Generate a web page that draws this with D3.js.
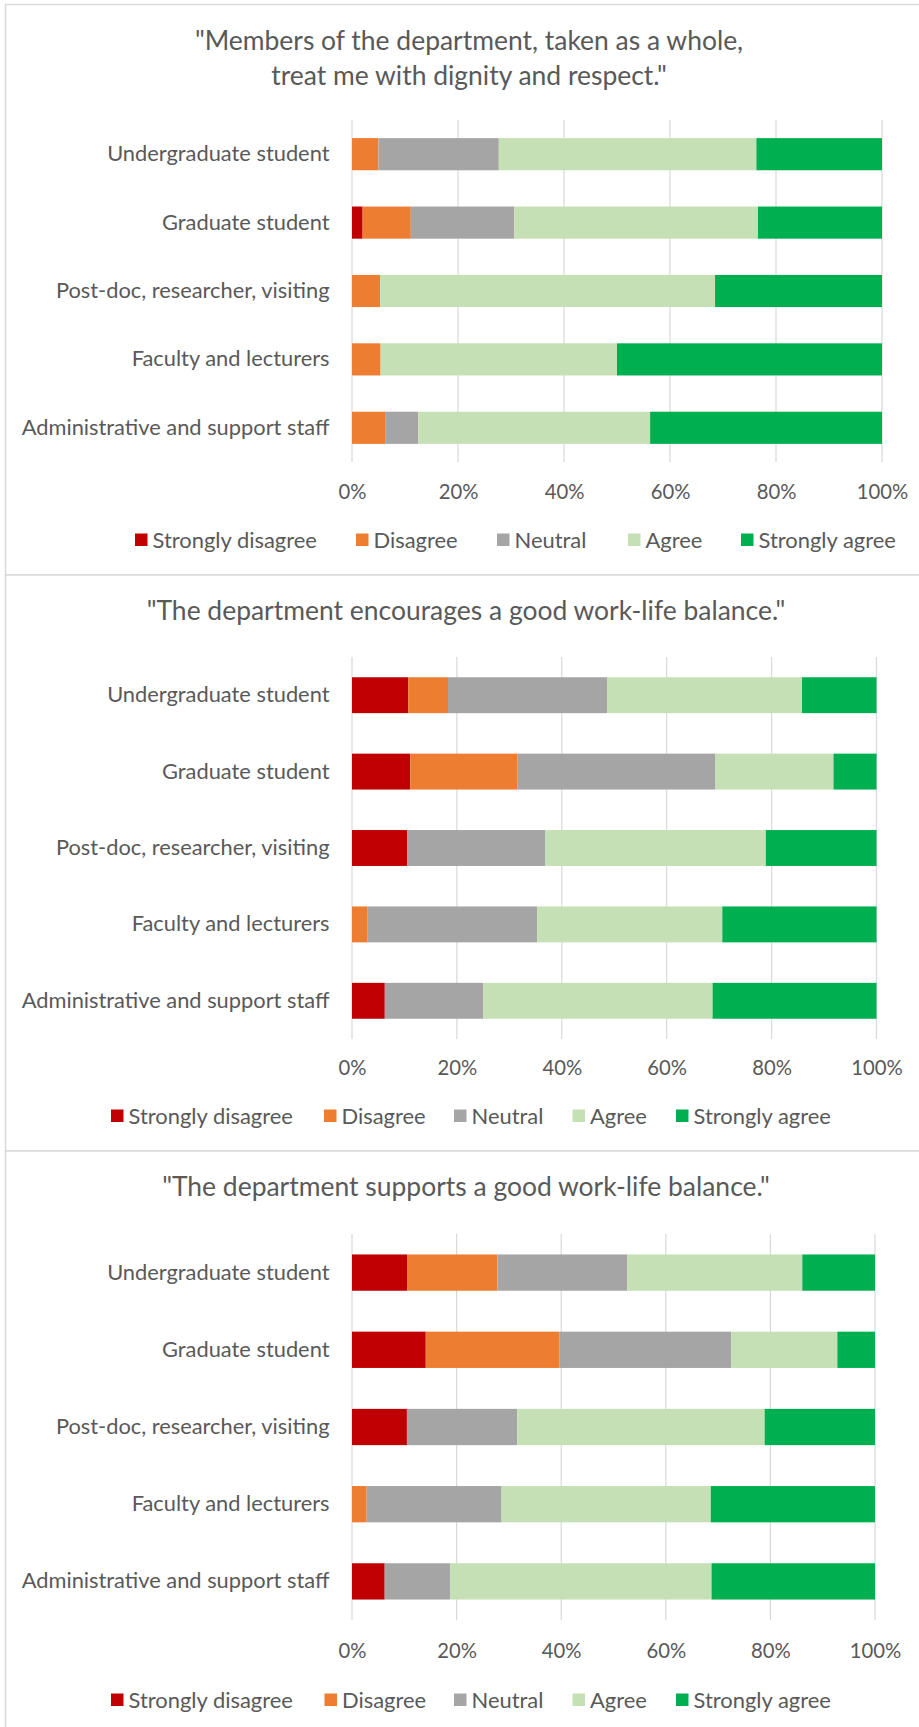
<!DOCTYPE html>
<html>
<head>
<meta charset="utf-8">
<script src="https://cdn.jsdelivr.net/npm/d3@7"></script>
<style>
  html, body { margin: 0; padding: 0; background: #ffffff; }
  svg { display: block; font-family: Lato, "Open Sans", sans-serif; }
</style>
</head>
<body>
<svg id="chart" width="919" height="1727"></svg>
<script>
// Respondent groups, in display order (top to bottom)
const categories = [
  "Undergraduate student",
  "Graduate student",
  "Post-doc, researcher, visiting",
  "Faculty and lecturers",
  "Administrative and support staff"
];

// Likert response levels and their colours
const responseLevels = ["Strongly disagree", "Disagree", "Neutral", "Agree", "Strongly agree"];
const levelColors = ["#C00000", "#ED7D31", "#A5A5A5", "#C5E0B4", "#00B050"];

// Axis ticks (percent of respondents)
const tickValues = [0, 20, 40, 60, 80, 100];
const tickLabels = ["0%", "20%", "40%", "60%", "80%", "100%"];

// Statement texts
const dignityTitle = ["\"Members of the department, taken as a whole,", "treat me with dignity and respect.\""];
const encouragesTitle = ["\"The department encourages a good work-life balance.\""];
const supportsTitle = ["\"The department supports a good work-life balance.\""];

// Share of responses per group (%), order: SD, D, N, A, SA
const dignityValues = [
  [0, 5.0, 22.7, 48.6, 23.7],
  [2.0, 9.1, 19.5, 46.0, 23.4],
  [0, 5.3, 0, 63.2, 31.5],
  [0, 5.4, 0, 44.6, 50.0],
  [0, 6.25, 6.25, 43.75, 43.75]
];
const encouragesValues = [
  [10.7, 7.6, 30.4, 37.1, 14.2],
  [11.1, 20.4, 37.8, 22.5, 8.2],
  [10.5, 0, 26.3, 42.1, 21.1],
  [0, 2.9, 32.4, 35.3, 29.4],
  [6.25, 0, 18.75, 43.75, 31.25]
];
const supportsValues = [
  [10.6, 17.2, 24.8, 33.5, 13.9],
  [14.1, 25.6, 32.8, 20.3, 7.2],
  [10.5, 0, 21.1, 47.3, 21.1],
  [0, 2.8, 25.8, 40.0, 31.4],
  [6.25, 0, 12.5, 50.0, 31.25]
];

const textColor = "#595959";
const gridColor = "#d9d9d9";

// Panel geometry
const panels = [
  { title: dignityTitle, values: dignityValues, top: 4.5, bottom: 575,
    titleX: 469, titleY: [41, 76], x0: 352, x1: 882, y0: 120, y1: 462,
    tickY: 492, legendY: 540, legendX: [135, 356, 497, 628, 741] },
  { title: encouragesTitle, values: encouragesValues, top: 575, bottom: 1151,
    titleX: 466, titleY: [611], x0: 352, x1: 876.5, y0: 657, y1: 1039,
    tickY: 1067.5, legendY: 1116, legendX: [111, 324, 454, 572.5, 676] },
  { title: supportsTitle, values: supportsValues, top: 1151, bottom: 1740,
    titleX: 466, titleY: [1187], x0: 352, x1: 875, y0: 1234, y1: 1620,
    tickY: 1651, legendY: 1700, legendX: [111, 324.5, 454, 572.5, 676] }
];

const svg = d3.select("#chart");

// font size that makes a sample string span a given width
function sizeFor(sample, width) {
  const t = svg.append("text").style("font-size", "20px").text(sample);
  const w = t.node().getComputedTextLength();
  t.remove();
  return 20 * width / w;
}
const titleSize = sizeFor(encouragesTitle[0], 639);
const labelSize = sizeFor(categories[4], 308);
const tickSize = sizeFor("100%", 51.5);
const legendSize = sizeFor(responseLevels[0], 164.5);

panels.forEach(p => {
  const g = svg.append("g");

  // chart frame
  g.append("rect")
    .attr("x", 5.5).attr("y", p.top)
    .attr("width", 960).attr("height", p.bottom - p.top)
    .attr("fill", "#ffffff")
    .attr("stroke", gridColor).attr("stroke-width", 1.5);

  // title
  p.title.forEach((line, i) => {
    g.append("text")
      .attr("x", p.titleX).attr("y", p.titleY[i])
      .attr("dy", "0.35em")
      .attr("text-anchor", "middle")
      .attr("fill", textColor)
      .style("font-size", titleSize + "px")
      .text(line);
  });

  const x = d3.scaleLinear().domain([0, 100]).range([p.x0, p.x1]);
  const y = d3.scaleBand().domain(categories).range([p.y0, p.y1])
    .paddingInner(0.53).paddingOuter(0.265);

  // vertical gridlines
  g.append("g").selectAll("line").data(tickValues).join("line")
    .attr("x1", d => x(d)).attr("x2", d => x(d))
    .attr("y1", p.y0).attr("y2", p.y1)
    .attr("stroke", gridColor).attr("stroke-width", 1.2);

  // stacked bars
  const rows = categories.map((c, i) => {
    const o = { category: c };
    responseLevels.forEach((lv, j) => { o[lv] = p.values[i][j]; });
    return o;
  });
  const series = d3.stack().keys(responseLevels)(rows);
  g.append("g").selectAll("g").data(series).join("g")
    .attr("fill", (d, i) => levelColors[i])
    .selectAll("rect").data(d => d).join("rect")
      .attr("x", d => x(d[0]))
      .attr("width", d => Math.max(0, x(d[1]) - x(d[0])))
      .attr("y", d => y(d.data.category))
      .attr("height", y.bandwidth());

  // category labels
  const yAxis = d3.axisLeft(y).tickSize(0).tickPadding(0);
  const ya = g.append("g").attr("transform", `translate(${p.x0 - 22.5},0)`).call(yAxis);
  ya.select(".domain").remove();
  ya.selectAll("text").attr("fill", textColor)
    .style("font-size", labelSize + "px").style("font-family", "Lato, 'Open Sans', sans-serif");

  // percentage axis labels
  const xAxis = d3.axisBottom(x).tickValues(tickValues)
    .tickFormat((d, i) => tickLabels[i]).tickSize(0).tickPadding(0);
  const xa = g.append("g").attr("transform", `translate(0,${p.tickY})`).call(xAxis);
  xa.select(".domain").remove();
  xa.selectAll("text").attr("fill", textColor).attr("dy", "0.35em")
    .style("font-size", tickSize + "px").style("font-family", "Lato, 'Open Sans', sans-serif");

  // legend
  const lg = g.append("g");
  responseLevels.forEach((lv, i) => {
    const lx = p.legendX[i];
    lg.append("rect")
      .attr("x", lx).attr("y", p.legendY - 6.5)
      .attr("width", 12.5).attr("height", 12.5)
      .attr("fill", levelColors[i]);
    lg.append("text")
      .attr("x", lx + 17.5).attr("y", p.legendY)
      .attr("dy", "0.35em")
      .attr("fill", textColor)
      .style("font-size", legendSize + "px")
      .text(lv);
  });
});
</script>
</body>
</html>
